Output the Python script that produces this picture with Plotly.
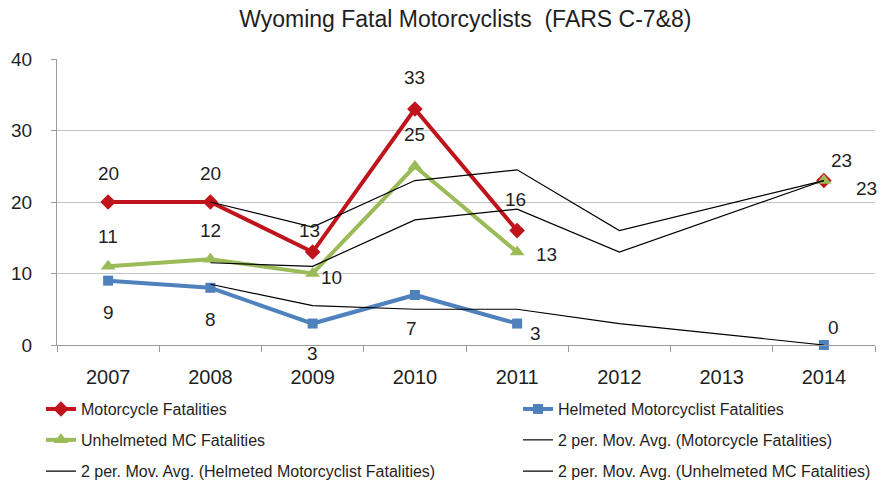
import plotly.graph_objects as go

years = ["2007", "2008", "2009", "2010", "2011", "2012", "2013", "2014"]

mc_fatal = [20, 20, 13, 33, 16, None, None, 23]
helmeted = [9, 8, 3, 7, 3, None, None, 0]
unhelmeted = [11, 12, 10, 25, 13, None, None, 23]

ma_mc = [None, 20, 16.5, 23, 24.5, 16, None, 23]
ma_helmeted = [None, 8.5, 5.5, 5, 5, 3, None, 0]
ma_unhelmeted = [None, 11.5, 11, 17.5, 19, 13, None, 23]

title = "Wyoming Fatal Motorcyclists  (FARS C-7&8)"
names = ["Motorcycle Fatalities", "Helmeted Motorcyclist Fatalities", "Unhelmeted MC Fatalities",
         "2 per. Mov. Avg. (Motorcycle Fatalities)",
         "2 per. Mov. Avg. (Helmeted Motorcyclist Fatalities)",
         "2 per. Mov. Avg. (Unhelmeted MC Fatalities)"]

FONT = "Liberation Sans, Arial, sans-serif"
TXT = "#1f1f1f"
RED, BLUE, GREEN = "#C0141C", "#4F81BD", "#9BBB59"

# label offsets (pixels) per point: style only
mc_off = [(0, 29), (0, 29), (-3, 22), (0, 32), (-2, 31), None, None, (18, 20)]
un_off = [(0, 30), (0, 29), (19, -4), (0, 32), (29, -2), None, None, (43, -8)]
he_off = [(0, -32), (0, -32), (0, -30), (-3, -34), (18, -10), None, None, (10, 18)]

legend_ids = ["legend", "legend2", "legend3", "legend4", "legend5", "legend6"]
# legend placement (paper coords): two columns, three rows
leg_x = [-0.0196, 0.5636, -0.0196, 0.5636, -0.0196, 0.5636]
leg_y = [-0.224, -0.224, -0.332, -0.332, -0.441, -0.441]

fig = go.Figure()

fig.add_trace(go.Scatter(x=years, y=mc_fatal, name=names[0], mode="lines+markers",
                         line=dict(color=RED, width=4), cliponaxis=False,
                         marker=dict(symbol="diamond", size=12, color=RED), legend=legend_ids[0]))
fig.add_trace(go.Scatter(x=years, y=helmeted, name=names[1], mode="lines+markers",
                         line=dict(color=BLUE, width=4), cliponaxis=False,
                         marker=dict(symbol="square", size=10, color=BLUE), legend=legend_ids[1]))
fig.add_trace(go.Scatter(x=years, y=unhelmeted, name=names[2], mode="lines+markers",
                         line=dict(color=GREEN, width=4), cliponaxis=False,
                         marker=dict(symbol="triangle-up", size=13, color=GREEN), legend=legend_ids[2]))
fig.add_trace(go.Scatter(x=years, y=ma_mc, name=names[3], mode="lines", connectgaps=True,
                         line=dict(color="black", width=1.2), legend=legend_ids[3]))
fig.add_trace(go.Scatter(x=years, y=ma_helmeted, name=names[4], mode="lines", connectgaps=True,
                         line=dict(color="black", width=1.2), legend=legend_ids[4]))
fig.add_trace(go.Scatter(x=years, y=ma_unhelmeted, name=names[5], mode="lines", connectgaps=True,
                         line=dict(color="black", width=1.2), legend=legend_ids[5]))

annotations = []
for vals, offs in [(mc_fatal, mc_off), (unhelmeted, un_off), (helmeted, he_off)]:
    for idx, (v, o) in enumerate(zip(vals, offs)):
        if v is None:
            continue
        # category axis: annotation x is the category's serial index
        annotations.append(dict(x=idx, y=v, xref="x", yref="y", text=str(v), showarrow=False,
                                xshift=o[0], yshift=o[1],
                                font=dict(family=FONT, size=19, color=TXT)))

legends = {}
for lid, lx, ly in zip(legend_ids, leg_x, leg_y):
    legends[lid] = dict(x=lx, y=ly, xanchor="left", yanchor="middle", orientation="v",
                        font=dict(family=FONT, size=16, color=TXT),
                        bgcolor="rgba(0,0,0,0)")

fig.update_layout(
    width=883, height=483,
    margin=dict(l=57, r=8, t=59, b=138, autoexpand=False),
    paper_bgcolor="white", plot_bgcolor="white",
    title=dict(text=title, x=0.527, xanchor="center", y=0.9605, yanchor="middle",
               font=dict(family=FONT, size=23, color=TXT)),
    showlegend=True,
    annotations=annotations,
    xaxis=dict(type="category", categoryorder="array", categoryarray=years,
               range=[-0.5, 7.5], showgrid=False, showline=True, linecolor="#9a9a9a",
               linewidth=1, ticks="outside", tickson="boundaries", ticklen=6,
               tickcolor="#9a9a9a", ticklabelstandoff=14,
               tickfont=dict(family=FONT, size=20, color=TXT)),
    yaxis=dict(range=[0, 40], dtick=10, showgrid=True, gridcolor="#c4c4c4", gridwidth=1,
               showline=True, linecolor="#9a9a9a", linewidth=1, ticks="outside", ticklen=5,
               tickcolor="#9a9a9a", zeroline=False, ticklabelstandoff=15,
               tickfont=dict(family=FONT, size=19, color=TXT)),
    **legends,
)

fig.write_html("out.html", config={"displayModeBar": False},
               post_script="document.body.style.margin='0';document.body.style.padding='0';")
